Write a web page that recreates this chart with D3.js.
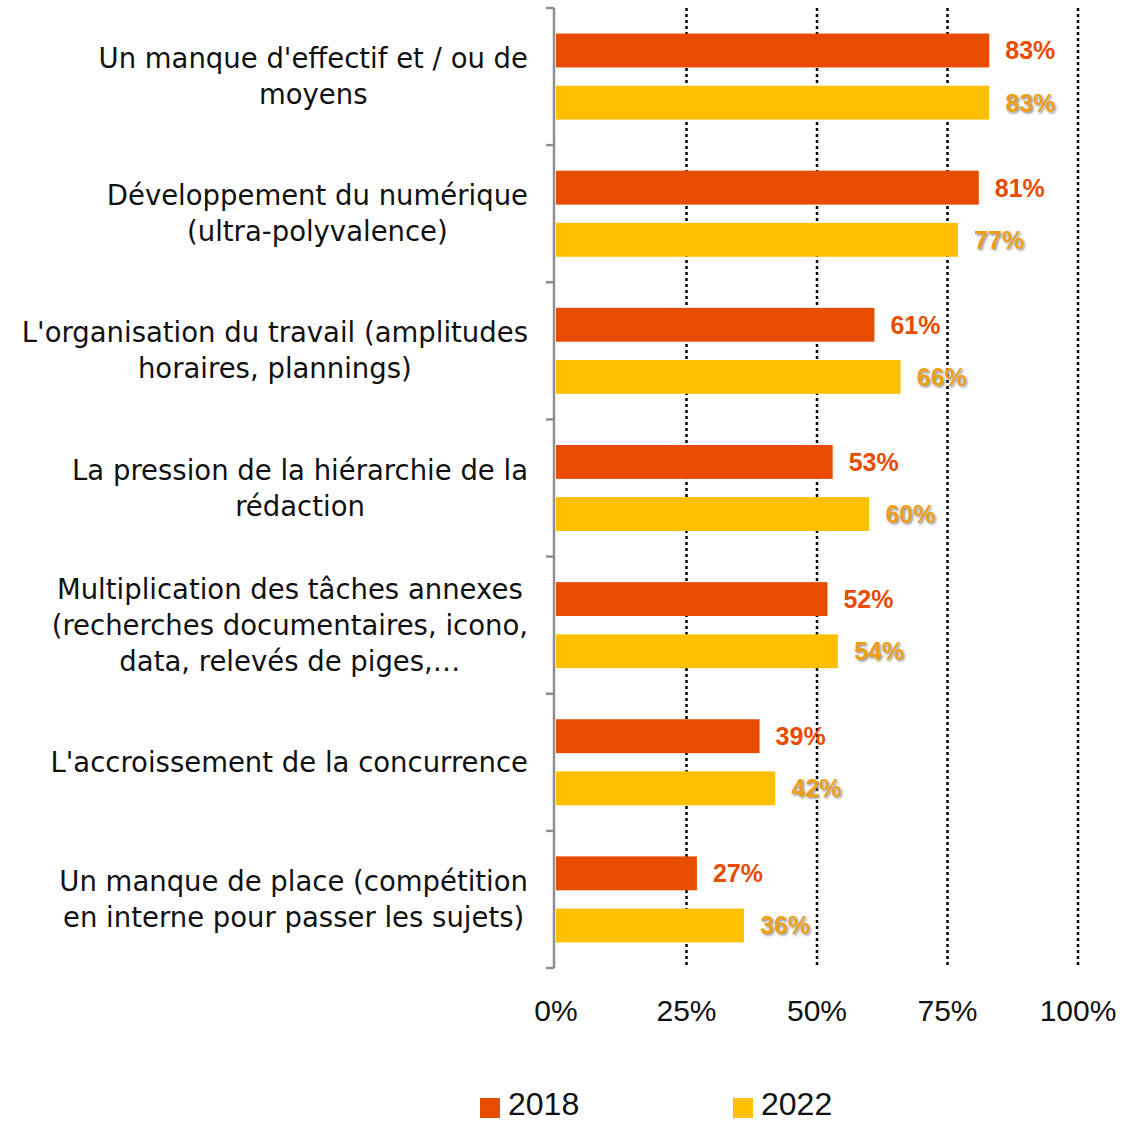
<!DOCTYPE html>
<html>
<head>
<meta charset="utf-8">
<script src="https://cdn.jsdelivr.net/npm/d3@7"></script>
<style>
  body { margin: 0; background: #fff; }
  svg { display: block; }
</style>
</head>
<body>
<svg></svg>
<script>
const width = 1145;
const height = 1124;

// data
const categories = [
    ["Un manque d'effectif et / ou de", "moyens"],
    ["Développement du numérique", "(ultra-polyvalence)"],
    ["L'organisation du travail (amplitudes", "horaires, plannings)"],
    ["La pression de la hiérarchie de la", "rédaction"],
    ["Multiplication des tâches annexes", "(recherches documentaires, icono,", "data, relevés de piges,…"],
    ["L'accroissement de la concurrence"],
    ["Un manque de place (compétition", "en interne pour passer les sujets)"]
];
const series = ["2018", "2022"];
const values2018 = [83, 81, 61, 53, 52, 39, 27];
const values2022 = [83, 77, 66, 60, 54, 42, 36];
const xTicks = [0, 25, 50, 75, 100];

const colors = {"2018": "#E84C00", "2022": "#FFC000"};
const labelColors = {"2018": "#E84C00", "2022": "#EDA017"};
const font = "'Liberation Sans', Arial, sans-serif";
const catFont = "'DejaVu Sans', sans-serif";

let svg = d3.select("svg")
    .attr("width", width)
    .attr("height", height);

let defs = svg.append("defs");
let shadow = defs.append("filter").attr("id", "shadow")
    .attr("x", "-20%").attr("y", "-20%").attr("width", "140%").attr("height", "140%");
shadow.append("feDropShadow")
    .attr("dx", 1.5).attr("dy", 1.5).attr("stdDeviation", 0.8)
    .attr("flood-color", "#777").attr("flood-opacity", 0.8);

const plot = {left: 556, right: 1078, top: 8, bottom: 968};

let x = d3.scaleLinear().domain([0, 100]).range([plot.left, plot.right]);
let y = d3.scaleBand().domain(d3.range(categories.length)).range([plot.top, plot.bottom]);
let yInner = d3.scaleBand().domain(series).range([0, y.bandwidth()])
    .paddingInner(0.35).paddingOuter(0.49);

let rows = categories.map((c, i) => ({i: i, lines: c, v: {"2018": values2018[i], "2022": values2022[i]}}));

// dotted gridlines
svg.append("g").selectAll("line")
    .data(xTicks.filter(d => d > 0))
    .join("line")
    .attr("x1", d => x(d)).attr("x2", d => x(d))
    .attr("y1", plot.top).attr("y2", plot.bottom)
    .attr("stroke", "#000")
    .attr("stroke-width", 2.5)
    .attr("stroke-dasharray", "3,3");

// bars
let groups = svg.append("g").selectAll("g")
    .data(rows)
    .join("g")
    .attr("transform", d => `translate(0,${y(d.i)})`);

groups.selectAll("rect")
    .data(d => series.map(s => ({s: s, v: d.v[s]})))
    .join("rect")
    .attr("x", x(0))
    .attr("y", d => yInner(d.s))
    .attr("width", d => x(d.v) - x(0))
    .attr("height", yInner.bandwidth())
    .attr("fill", d => colors[d.s]);

groups.selectAll("text.val")
    .data(d => series.map(s => ({s: s, v: d.v[s]})))
    .join("text")
    .attr("class", "val")
    .attr("x", d => x(d.v) + 16)
    .attr("y", d => yInner(d.s) + yInner.bandwidth() / 2)
    .attr("dy", "0.36em")
    .attr("font-family", font)
    .attr("font-weight", "bold")
    .attr("font-size", 25)
    .attr("fill", d => labelColors[d.s])
    .attr("filter", d => d.s === "2022" ? "url(#shadow)" : null)
    .text(d => d.v + "%");

// y axis line with category ticks
let axis = svg.append("g")
    .attr("stroke", "#8f8f8f")
    .attr("stroke-width", 2.5)
    .attr("fill", "none");
axis.append("line")
    .attr("x1", plot.left - 2).attr("x2", plot.left - 2)
    .attr("y1", plot.top).attr("y2", plot.bottom);
axis.selectAll("line.tick")
    .data(d3.range(categories.length + 1))
    .join("line")
    .attr("class", "tick")
    .attr("x1", plot.left - 10).attr("x2", plot.left - 2)
    .attr("y1", d => d < categories.length ? y(d) : plot.bottom)
    .attr("y2", d => d < categories.length ? y(d) : plot.bottom);

// category labels: lines centred on each other, block right-aligned
let labels = svg.append("g").selectAll("g")
    .data(rows)
    .join("g");

labels.each(function(d) {
    let g = d3.select(this);
    let n = d.lines.length;
    let cy = y(d.i) + y.bandwidth() / 2;
    let texts = g.selectAll("text")
        .data(d.lines)
        .join("text")
        .attr("y", (t, j) => cy + (j - (n - 1) / 2) * 36)
        .attr("dy", "0.35em")
        .attr("font-family", catFont)
        .attr("font-size", 27.5)
        .attr("fill", "#111")
        .attr("text-anchor", "middle")
        .text(t => t);
    let maxW = d3.max(texts.nodes(), n => n.getComputedTextLength());
    texts.attr("x", 528 - maxW / 2);
});

// x tick labels
svg.append("g").selectAll("text")
    .data(xTicks)
    .join("text")
    .attr("x", d => x(d))
    .attr("y", 1010)
    .attr("dy", "0.35em")
    .attr("text-anchor", "middle")
    .attr("font-family", font)
    .attr("font-size", 30)
    .attr("fill", "#111")
    .text(d => d + "%");

// legend
let legend = svg.append("g").selectAll("g")
    .data(series)
    .join("g")
    .attr("transform", (d, i) => `translate(${480 + i * 253},1098)`);
legend.append("rect")
    .attr("width", 20).attr("height", 20)
    .attr("fill", d => colors[d]);
legend.append("text")
    .attr("x", 28).attr("y", 6)
    .attr("dy", "0.35em")
    .attr("font-family", font)
    .attr("font-size", 32)
    .attr("fill", "#111")
    .text(d => d);
</script>
</body>
</html>
